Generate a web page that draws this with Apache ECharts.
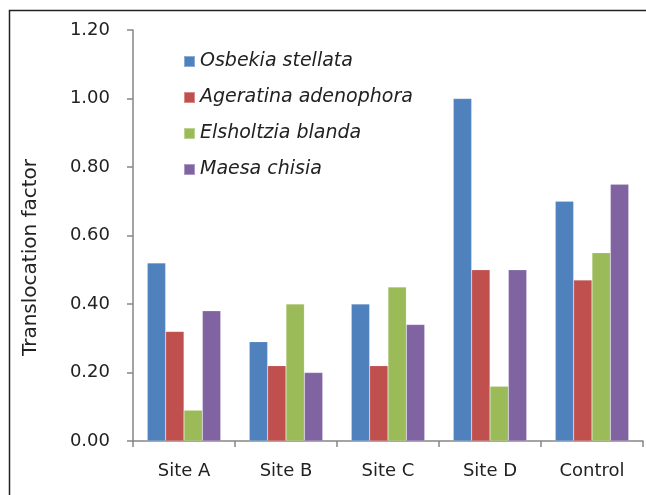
<!DOCTYPE html>
<html>
<head>
<meta charset="utf-8">
<script src="https://cdn.jsdelivr.net/npm/echarts@6/dist/echarts.min.js"></script>
<style>
  html, body { margin: 0; padding: 0; background: #fff; }
  #chart { width: 646px; height: 495px; }
</style>
</head>
<body>
<div id="chart"></div>
<script>
  // categories and values
  const sites = ['Site A', 'Site B', 'Site C', 'Site D', 'Control'];
  const osbekia = [0.52, 0.29, 0.40, 1.00, 0.70];
  const ageratina = [0.32, 0.22, 0.22, 0.50, 0.47];
  const elsholtzia = [0.09, 0.40, 0.45, 0.16, 0.55];
  const maesa = [0.38, 0.20, 0.34, 0.50, 0.75];
  const speciesNames = ['Osbekia stellata', 'Ageratina adenophora', 'Elsholtzia blanda', 'Maesa chisia'];
  const yTicks = [0, 1.2, 0.2]; // min, max, step

  const colors = ['#4F81BD', '#C0504D', '#9BBB59', '#8064A2'];
  const font = '"DejaVu Sans", "Noto Sans", sans-serif';
  const axisGrey = '#868686';
  const textColor = '#222';

  const allData = [osbekia, ageratina, elsholtzia, maesa];
  const series = speciesNames.map(function (name, i) {
    return {
      name: name,
      type: 'bar',
      data: allData[i],
      barWidth: '18%',
      barGap: '0%',
      itemStyle: { color: colors[i], borderColor: 'rgba(255,255,255,0.35)', borderWidth: 0.5 }
    };
  });

  const myChart = echarts.init(document.getElementById('chart'));
  myChart.setOption({
    animation: false,
    color: colors,
    grid: { left: 133, right: 3, top: 30, bottom: 54 },
    legend: {
      orient: 'vertical',
      left: 178,
      top: 47,
      itemWidth: 11,
      itemHeight: 11,
      itemGap: 17,
      icon: 'rect',
      textStyle: { fontFamily: font, fontStyle: 'italic', fontSize: 19, color: textColor },
      data: speciesNames
    },
    xAxis: {
      type: 'category',
      data: sites,
      axisLine: { lineStyle: { color: axisGrey, width: 1.5 } },
      axisTick: { show: true, length: 6, lineStyle: { color: axisGrey, width: 1.5 } },
      axisLabel: { fontFamily: font, fontSize: 18, color: textColor, margin: 21 }
    },
    yAxis: {
      type: 'value',
      min: yTicks[0],
      max: yTicks[1],
      interval: yTicks[2],
      name: 'Translocation factor',
      nameLocation: 'middle',
      nameGap: 92,
      nameTextStyle: { fontFamily: font, fontSize: 20, color: textColor, padding: [0, 0, 0, -44] },
      axisLine: { show: true, lineStyle: { color: axisGrey, width: 1.5 } },
      axisTick: { show: true, length: 6, lineStyle: { color: axisGrey, width: 1.5 } },
      splitLine: { show: false },
      axisLabel: {
        fontFamily: font, fontSize: 18, color: textColor, margin: 23,
        formatter: function (v) { return v.toFixed(2); }
      }
    },
    graphic: [{
      type: 'rect',
      shape: { x: 9.5, y: 10.5, width: 660, height: 500 },
      style: { fill: 'none', stroke: '#222', lineWidth: 1.5 },
      silent: true
    }],
    series: series
  });
</script>
</body>
</html>
